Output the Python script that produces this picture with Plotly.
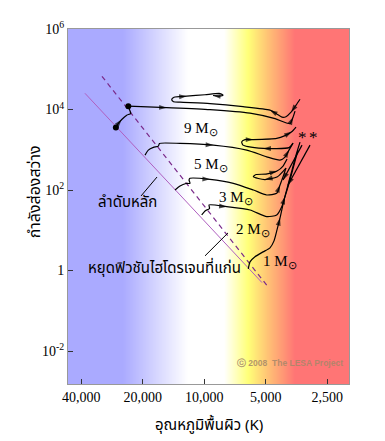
import numpy as np
import plotly.graph_objects as go

# ---------------- axes ----------------
T_ticks = [40000, 20000, 10000, 5000, 2500]
T_ticklabels = ["40,000", "20,000", "10,000", "5,000", "2,500"]
L_ticks = [1e-2, 1, 1e2, 1e4, 1e6]
L_ticklabels = ["10<sup>-2</sup>", "1", "10<sup>2</sup>", "10<sup>4</sup>", "10<sup>6</sup>"]
T_range = [46480, 1958]
L_range = [10 ** -2.82, 1e6]

# ---------------- background colour bands ----------------
band_T = [46480, 25000, 12000, 8000, 6100, 4880, 3600, 1958]
band_colors = ["#aaaaff", "#aaaaff", "#ffffff", "#ffffff", "#ffff78", "#ffc275", "#ff7575", "#ff7575"]

# ---------------- main sequence lines ----------------
zams_T = [38400, 5220]
zams_L = [25300, 0.50]
tams_T = [31700, 4930]
tams_L = [66800, 0.42]

# ---------------- evolutionary tracks ----------------
m9_ms_T = [27100, 26350, 25370, 23980, 22920, 23230, 23550]
m9_ms_L = [3580, 4500, 5650, 7220, 7960, 9890, 12070]
m9_gap_T = [23550, 15270, 9380, 5975, 4505, 3807, 3680, 3597]
m9_gap_L = [12070, 11090, 9890, 8090, 5910, 4450, 6440, 9080]
m9_loop_T = [3401, 3558, 3763, 3984, 4167, 4408, 4770, 6466, 9380, 13150, 14150,
             14440, 14070, 12190, 9920, 8380, 8100, 8473, 9068]
m9_loop_L = [17990, 12790, 8570, 6630, 6440, 7650, 9610, 11730, 13930, 15170, 15600,
             17700, 20180, 21380, 23280, 24940, 22600, 21380, 22230]

m5_T = [19510, 18800, 17760, 16790, 16560, 13150, 9040, 6200, 4950, 4260, 4028, 3850, 3680]
m5_L = [736, 980, 1143, 1230, 1436, 1436, 1304, 980, 668, 554, 657, 980, 1462]
m5_loop_T = [3680, 3850, 4505, 5143, 6110, 6466, 6562, 6320, 5756, 4422, 4027, 3735, 3558]
m5_loop_L = [1462, 1130, 1067, 1080, 1197, 1304, 1574, 1786, 1786, 1911, 2243, 2786, 3640]

m3_T = [13910, 13150, 12290, 11750, 11880, 11750, 9380, 7211, 5756, 4950, 4422, 4260, 4105, 3984]
m3_L = [100, 125.6, 144.9, 146.6, 177, 195, 184, 146.6, 100, 75.2, 82.8, 133, 222, 351]
m3_loop_T = [3984, 4408, 5045, 5440, 5756, 5581, 4989, 4408, 4118, 3937]
m3_loop_L = [351, 210, 182, 193, 214, 242, 249, 296, 394, 586]

m2_T = [10300, 9920, 9430, 9481, 7770, 5975, 4950, 4422, 4179, 4028, 3807, 3640, 3478]
m2_L = [24.0, 30.2, 34.8, 42.5, 38.5, 31.9, 21.8, 24.0, 38.5, 68.2, 177, 417, 980]

m1_T = [6092, 5975, 5650, 5159, 4770, 4559, 4408, 4260, 4072, 3895, 3721, 3558, 3401]
m1_L = [1.10, 1.64, 2.19, 2.90, 3.65, 5.45, 10.2, 20.2, 56.5, 133, 313, 736, 1549]

flash1_T = [3325, 4118]
flash1_L = [1300, 177]
flash2_T = [3038, 3895]
flash2_L = [1300, 133]

dots_T = [27100, 23550]
dots_L = [3580, 12070]

# ---------------- labels ----------------
mass_labels = ["9 M<sub>⊙</sub>", "5 M<sub>⊙</sub>", "3 M<sub>⊙</sub>", "2 M<sub>⊙</sub>", "1 M<sub>⊙</sub>"]
mass_label_T = [10380, 9274, 6997, 5776, 4260]
mass_label_L = [3250, 417, 63.4, 10.2, 1.64]

ms_label = "ลำดับหลัก"
ms_label_T, ms_label_L = 23900, 47.6
ms_ptr_T = [17040, 20410]
ms_ptr_L = [210, 71]

tams_label = "หยุดฟิวชันไฮโดรเจนที่แก่น"
tams_label_T, tams_label_L = 15750, 1.10
tams_ptr_T = [7657, 9920]
tams_ptr_L = [8.59, 2.31]

star_T = [3325, 2937]
star_L = [2060, 2060]

x_title = "อุณหภูมิพื้นผิว (K)"
y_title = "กำลังส่องสว่าง"
credit = "ⓒ 2008  The LESA Project"

SERIF = "Liberation Serif, Times New Roman, serif"
THAI = "Noto Sans Thai, Tahoma, Noto Sans, sans-serif"

fig = go.Figure()

# background gradient as heatmap
lo, hi = np.log10(T_range[1]), np.log10(T_range[0])
edges = np.logspace(hi, lo, 282)
centers = np.sqrt(edges[:-1] * edges[1:])
z = [list(np.log10(centers))]
stops = sorted([((np.log10(t) - lo) / (hi - lo), c) for t, c in zip(band_T, band_colors)])
stops[0] = (0.0, stops[0][1])
stops[-1] = (1.0, stops[-1][1])
fig.add_trace(go.Heatmap(x=edges, y=[10 ** -3.2, 10 ** 6.4], z=z, colorscale=[list(s) for s in stops],
                         zmin=lo, zmax=hi, showscale=False, hoverinfo="skip"))

fig.add_trace(go.Scatter(x=zams_T, y=zams_L, mode="lines", line=dict(color="#b060c0", width=1)))
fig.add_trace(go.Scatter(x=tams_T, y=tams_L, mode="lines", line=dict(color="#7a2a8a", width=1.2, dash="5px,4px")))


def track(T, L, arrows):
    sizes = [8 if i in arrows else 0 for i in range(len(T))]
    fig.add_trace(go.Scatter(
        x=T, y=L, mode="lines+markers",
        line=dict(color="black", width=1.2, shape="spline", smoothing=0.6),
        marker=dict(symbol="arrow", size=sizes, color="black", angleref="previous", line=dict(width=0)),
        hoverinfo="skip"))


track(m9_ms_T, m9_ms_L, [2])
track(m9_gap_T, m9_gap_L, [1, 6])
track(m9_loop_T, m9_loop_L, [2, 6, 13, 18])
track(m5_T, m5_L, [6, 11])
track(m5_loop_T, m5_loop_L, [3, 8, 11])
track(m3_T, m3_L, [6, 11])
track(m3_loop_T, m3_loop_L, [2, 7])
track(m2_T, m2_L, [4, 9])
track(m1_T, m1_L, [7])
track(flash1_T, flash1_L, [1])
track(flash2_T, flash2_L, [1])

fig.add_trace(go.Scatter(x=ms_ptr_T, y=ms_ptr_L, mode="lines", line=dict(color="black", width=1)))
fig.add_trace(go.Scatter(x=tams_ptr_T, y=tams_ptr_L, mode="lines", line=dict(color="black", width=1)))
fig.add_trace(go.Scatter(x=dots_T, y=dots_L, mode="markers", marker=dict(color="black", size=6)))

for txt, t, l in zip(mass_labels, mass_label_T, mass_label_L):
    fig.add_annotation(x=np.log10(t), y=np.log10(l), text=txt, showarrow=False,
                       font=dict(family=SERIF, size=15, color="black"))
for t, l in zip(star_T, star_L):
    fig.add_annotation(x=np.log10(t), y=np.log10(l), text="*", showarrow=False,
                       font=dict(family=SERIF, size=17, color="black"))
fig.add_annotation(x=np.log10(ms_label_T), y=np.log10(ms_label_L), text=ms_label, showarrow=False,
                   font=dict(family=THAI, size=15, color="black"))
fig.add_annotation(x=np.log10(tams_label_T), y=np.log10(tams_label_L), text=tams_label, showarrow=False,
                   font=dict(family=THAI, size=15, color="black"))

fig.add_annotation(x=0.5, y=0, xref="paper", yref="paper", yshift=-41, yanchor="middle", text=x_title,
                   showarrow=False, font=dict(family=THAI, size=15, color="black"))
fig.add_annotation(x=0, y=0.54, xref="paper", yref="paper", xshift=-47, text=y_title, textangle=-90,
                   showarrow=False, font=dict(family=THAI, size=16, color="black"))
fig.add_annotation(x=0.79, y=0.058, xref="paper", yref="paper", xanchor="center", yanchor="middle",
                   text="<b>" + credit + "</b>", showarrow=False,
                   font=dict(family="Liberation Sans, Arial, sans-serif", size=8.5, color="rgba(165,135,105,0.85)"))

fig.update_layout(
    width=385, height=441, margin=dict(l=68, r=36, t=29, b=57),
    paper_bgcolor="white", plot_bgcolor="white", showlegend=False,
    xaxis=dict(type="log", range=[np.log10(T_range[0]), np.log10(T_range[1])],
               tickvals=T_ticks, ticktext=T_ticklabels, ticks="inside", ticklen=5,
               tickcolor="#333", showgrid=False, zeroline=False,
               showline=True, linecolor="#999", linewidth=1, mirror=True,
               tickfont=dict(family=SERIF, size=14, color="black")),
    yaxis=dict(type="log", range=[np.log10(L_range[0]), np.log10(L_range[1])],
               tickvals=L_ticks, ticktext=L_ticklabels, ticks="inside", ticklen=5,
               tickcolor="#333", showgrid=False, zeroline=False,
               showline=True, linecolor="#999", linewidth=1, mirror=True,
               tickfont=dict(family=SERIF, size=14, color="black")),
)

fig.write_html("out.html", config={"displayModeBar": False, "staticPlot": True},
               post_script="document.body.style.margin='0';document.body.style.overflow='hidden';")
